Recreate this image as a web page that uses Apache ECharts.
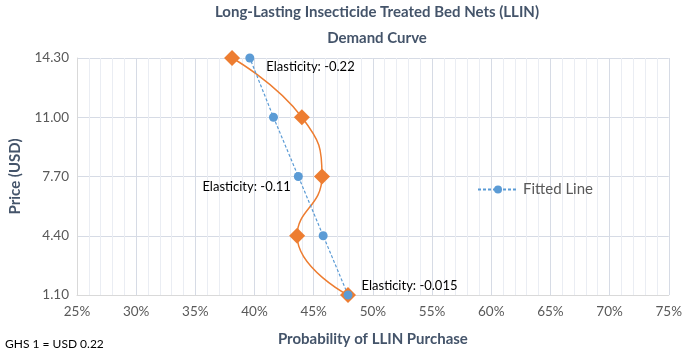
<!DOCTYPE html>
<html>
<head>
<meta charset="utf-8">
<script src="https://cdn.jsdelivr.net/npm/echarts@6/dist/echarts.min.js"></script>
<style>
  html, body { margin:0; padding:0; background:#fff; }
  #chart { width:685px; height:352px; }
</style>
</head>
<body>
<div id="chart"></div>
<script>
// price levels (USD) and purchase probability (%)
var prices = [1.10, 4.40, 7.70, 11.00, 14.30];
var observedProb = [47.9, 43.6, 45.7, 44.0, 38.1];
var fittedProb = [47.9, 45.8, 43.7, 41.6, 39.6];
var elasticityLabels = ['Elasticity: -0.015', '', 'Elasticity: -0.11', '', 'Elasticity: -0.22'];

var txtColor = '#44546A';
var tickColor = '#595959';
var fontFam = 'Lato, "Open Sans", sans-serif';

// label placement per point (only the labelled ones)
var labelPlace = [
	{position:'right', offset:[4,-9]},
	null,
	{position:'left', offset:[2,10]},
	null,
	{position:'right', offset:[7,9]}
];

var observedData = [];
var fittedData = [];
for(var i=0;i<prices.length;i++){
	observedData.push([observedProb[i], prices[i]]);
	var item = {value:[fittedProb[i], prices[i]]};
	if(elasticityLabels[i] != ''){
		item.label = {
			show:true,
			position:labelPlace[i].position,
			offset:labelPlace[i].offset,
			formatter:elasticityLabels[i],
			color:'#000',
			fontSize:13,
			fontFamily:fontFam
		};
	}
	fittedData.push(item);
}

var chart = echarts.init(document.getElementById('chart'));
var option = {
	animation:false,
	title:[
		{
			text:'Long-Lasting Insecticide Treated Bed Nets (LLIN)',
			left:372, top:0, textAlign:'center',
			textStyle:{color:txtColor, fontSize:15, fontWeight:'bold', fontFamily:fontFam}
		},
		{
			text:'Demand Curve',
			left:372, top:26, textAlign:'center',
			textStyle:{color:txtColor, fontSize:15, fontWeight:'bold', fontFamily:fontFam}
		},
		{
			text:'GHS 1 = USD 0.22',
			left:0, top:333,
			textStyle:{color:'#000', fontSize:12, fontWeight:'normal', fontFamily:fontFam}
		}
	],
	legend:{
		data:['Fitted Line'],
		left:472, top:177,
		itemWidth:40, itemHeight:10,
		textStyle:{color:tickColor, fontSize:15, fontFamily:fontFam}
	},
	grid:{left:73, right:14, top:58, bottom:56},
	xAxis:{
		type:'value',
		min:25, max:75, interval:5,
		name:'Probability of LLIN Purchase',
		nameLocation:'middle',
		nameGap:37,
		nameTextStyle:{color:txtColor, fontSize:15, fontWeight:'bold', fontFamily:fontFam},
		axisLine:{show:true, lineStyle:{color:'#d9d9d9'}},
		axisTick:{show:false},
		axisLabel:{color:tickColor, fontSize:13.5, fontFamily:fontFam, margin:10, formatter:function(v){return v+'%';}},
		splitLine:{show:true, lineStyle:{color:'#d6dbe5'}},
		minorTick:{show:false, splitNumber:5},
		minorSplitLine:{show:true, lineStyle:{color:'#eaedf3'}}
	},
	yAxis:{
		type:'value',
		min:1.1, max:14.3, interval:3.3,
		name:'Price (USD)',
		nameLocation:'middle',
		nameGap:54,
		nameTextStyle:{color:txtColor, fontSize:15, fontWeight:'bold', fontFamily:fontFam},
		axisLine:{show:true, lineStyle:{color:'#d9d9d9'}},
		axisTick:{show:false},
		axisLabel:{color:tickColor, fontSize:13.5, fontFamily:fontFam, margin:8, formatter:function(v){return v.toFixed(2);}},
		splitLine:{show:true, lineStyle:{color:'#d6dbe5'}}
	},
	series:[
		{
			name:'Observed',
			type:'line',
			smooth:0.5,
			data:observedData,
			symbol:'diamond',
			symbolSize:16,
			itemStyle:{color:'#ED7D31'},
			lineStyle:{color:'#ED7D31', width:1.5}
		},
		{
			name:'Fitted Line',
			type:'line',
			data:fittedData,
			symbol:'circle',
			symbolSize:9,
			itemStyle:{color:'#5B9BD5'},
			lineStyle:{color:'#5B9BD5', width:1.2, type:[3,2]}
		}
	]
};
chart.setOption(option);
</script>
</body>
</html>
